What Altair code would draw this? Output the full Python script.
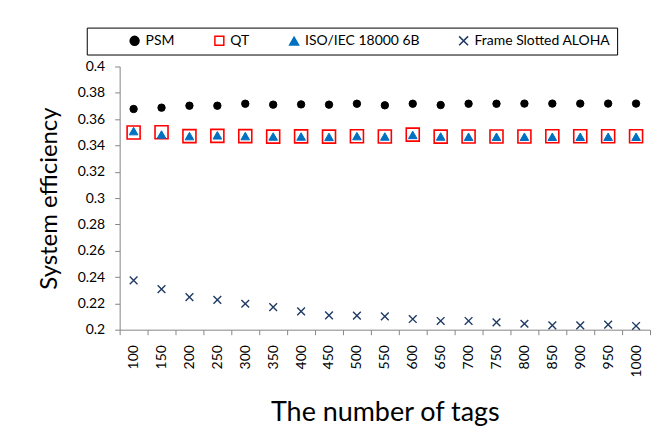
import altair as alt
import pandas as pd

tags = [100, 150, 200, 250, 300, 350, 400, 450, 500, 550, 600, 650, 700, 750, 800, 850, 900, 950, 1000]
series_names = ["PSM", "QT", "ISO/IEC 18000 6B", "Frame Slotted ALOHA"]

psm = [0.3677, 0.3687, 0.3702, 0.3702, 0.3717, 0.3710, 0.3712, 0.3710, 0.3717, 0.3705,
       0.3717, 0.3707, 0.3717, 0.3717, 0.3718, 0.3718, 0.3718, 0.3718, 0.3718]
qt = [0.3498, 0.3500, 0.3471, 0.3473, 0.3471, 0.3467, 0.3469, 0.3467, 0.3470, 0.3468,
      0.3482, 0.3467, 0.3468, 0.3468, 0.3468, 0.3470, 0.3470, 0.3470, 0.3470]
iso = [0.3509, 0.3483, 0.3471, 0.3477, 0.3471, 0.3468, 0.3468, 0.3465, 0.3471, 0.3468,
       0.3480, 0.3468, 0.3466, 0.3466, 0.3466, 0.3466, 0.3466, 0.3466, 0.3466]
fsa = [0.2374, 0.2308, 0.2248, 0.2227, 0.2197, 0.2172, 0.2139, 0.2108, 0.2106, 0.2101,
       0.2081, 0.2066, 0.2066, 0.2056, 0.2045, 0.2033, 0.2033, 0.2038, 0.2028]

y_ticks = [0.2, 0.22, 0.24, 0.26, 0.28, 0.3, 0.32, 0.34, 0.36, 0.38, 0.4]

rows = []
for name, vals in zip(series_names, [psm, qt, iso, fsa]):
    for t, v in zip(tags, vals):
        rows.append({"tags": str(t), "eff": v, "series": name})
df = pd.DataFrame(rows)

x_shape = "M-1,-1L1,1M-1,1L1,-1"
FONT = "Lato"

shapes = ["circle", "square", "triangle-up", x_shape]
strokes = ["#000000", "#FF0000", "#0070C0", "#1F3A63"]
fills = ["#000000", "transparent", "#0070C0", "transparent"]
sizes = [55, 170, 75, 60]
widths = [1, 1.6, 1, 1.4]

legend = alt.Legend(
    title="\u00a0",
    titleOrient="left",
    titlePadding=35,
    titleFontSize=8,
    orient="none",
    legendX=-33,
    legendY=-39,
    direction="horizontal",
    columns=4,
    strokeColor="black",
    fillColor="white",
    padding=6,
    symbolSize=80,
    symbolStrokeWidth=1.5,
    labelFontSize=14,
    labelFont=FONT,
    labelColor="black",
    labelOffset=4,
    labelLimit=300,
    columnPadding=36,
    labelExpr="datum.label == 'Frame Slotted ALOHA' ? datum.label + '\u2003\u00a0' : datum.label",
)

base = alt.Chart(df).encode(
    x=alt.X(
        "tags:N",
        sort=[str(t) for t in tags],
        scale=alt.Scale(type="band", paddingInner=0, paddingOuter=0),
        axis=alt.Axis(
            title="The number of tags",
            labelAngle=270,
            tickBand="extent",
            labelPadding=10,
            titlePadding=23,
            titleFontSize=27,
        ),
    ),
    y=alt.Y(
        "eff:Q",
        scale=alt.Scale(domain=[0.2, 0.4], nice=False, zero=False),
        axis=alt.Axis(
            title="System efficiency",
            values=y_ticks,
            format="~g",
            labelPadding=10,
            titlePadding=16,
            titleFontSize=24,
        ),
    ),
    shape=alt.Shape("series:N", scale=alt.Scale(domain=series_names, range=shapes), legend=legend),
    stroke=alt.Stroke("series:N", scale=alt.Scale(domain=series_names, range=strokes), legend=legend),
    fill=alt.Fill("series:N", scale=alt.Scale(domain=series_names, range=fills), legend=legend),
)

layers = []
for name, sz, sw in zip(series_names, sizes, widths):
    layers.append(
        base.mark_point(opacity=1, size=sz, strokeWidth=sw).transform_filter(
            alt.datum.series == name
        )
    )

chart = alt.layer(*layers).properties(
    width=532,
    height=264,
    background="white",
    autosize=alt.AutoSizeParams(type="none"),
    padding={"left": 112, "top": 58, "right": 8, "bottom": 110},
).configure_view(
    stroke=None
).configure_axis(
    grid=False,
    domainColor="#868686",
    tickColor="#868686",
    tickSize=5,
    labelFont=FONT,
    labelFontSize=14,
    labelColor="black",
    titleFont=FONT,
    titleFontWeight="normal",
    titleColor="black",
)

chart.save("out.html", embed_options={"renderer": "svg", "actions": False})
